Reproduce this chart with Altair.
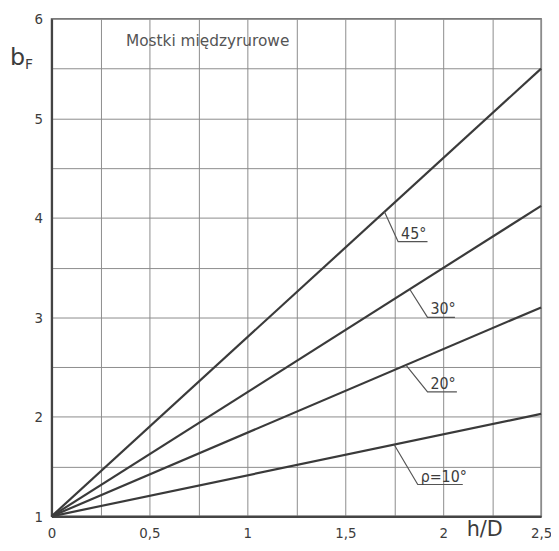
import altair as alt
import pandas as pd

# --- data ---
curve_names = ["45°", "30°", "20°", "10°"]
curve_h = [0.0, 2.5]
curve_b_start = [1.0, 1.0, 1.0, 1.0]
curve_b_end = [5.5, 4.12, 3.10, 2.03]

label_text = ["45°", "30°", "20°", "ρ=10°"]
lead_h0 = [1.70, 1.83, 1.81, 1.75]
lead_b0 = [4.06, 3.28, 2.52, 1.72]
lead_h1 = [1.77, 1.92, 1.92, 1.87]
lead_b1 = [3.76, 3.00, 2.25, 1.32]
lead_h2 = [1.92, 2.06, 2.07, 2.10]
text_h = [1.785, 1.935, 1.935, 1.885]

x_ticks = [0, 0.25, 0.5, 0.75, 1, 1.25, 1.5, 1.75, 2, 2.25, 2.5]
y_ticks = [1, 1.5, 2, 2.5, 3, 3.5, 4, 4.5, 5, 5.5, 6]

FONT = "Liberation Sans Narrow, DejaVu Sans Condensed, Roboto, sans-serif"
INK = "#3c3c3c"

rows = []
for n, b0, b1 in zip(curve_names, curve_b_start, curve_b_end):
    rows.append({"name": n, "h": curve_h[0], "b": b0})
    rows.append({"name": n, "h": curve_h[1], "b": b1})
curves = pd.DataFrame(rows)

lrows = []
for t, h0, b0, h1, b1, h2 in zip(label_text, lead_h0, lead_b0, lead_h1, lead_b1, lead_h2):
    lrows += [{"lbl": t, "h": h0, "b": b0, "o": 0},
              {"lbl": t, "h": h1, "b": b1, "o": 1},
              {"lbl": t, "h": h2, "b": b1, "o": 2}]
leaders = pd.DataFrame(lrows)
labels = pd.DataFrame({"lbl": label_text, "h": text_h, "b": lead_b1})

X = alt.X("h:Q",
          scale=alt.Scale(domain=[0, 2.5], nice=False, zero=False),
          axis=alt.Axis(values=x_ticks, title=None, grid=True, tickSize=0,
                        format="~g", labelFlush=False, labelOverlap=False,
                        labelExpr="datum.value % 0.5 == 0 ? replace(datum.label, '.', ',') : ''",
                        labelPadding=9, labelFontSize=15, labelFont=FONT, labelColor=INK,
                        domainColor="#444", domainWidth=2.2,
                        gridColor="#8c8c8c", gridWidth=1))
Y = alt.Y("b:Q",
          scale=alt.Scale(domain=[1, 6], nice=False, zero=False),
          axis=alt.Axis(values=y_ticks, title=None, grid=True, tickSize=0,
                        format="~g", labelFlush=False, labelOverlap=False,
                        labelExpr="datum.value % 1 == 0 ? datum.label : ''",
                        labelPadding=9, labelFontSize=15, labelFont=FONT, labelColor=INK,
                        domainColor="#444", domainWidth=2.2,
                        gridColor="#8c8c8c", gridWidth=1))

lines = alt.Chart(curves).mark_line(color="#3a3a3a", strokeWidth=2.2).encode(
    x=X, y=Y, detail="name:N")

lead = alt.Chart(leaders).mark_line(color="#555", strokeWidth=1.2).encode(
    x=X, y=Y, detail="lbl:N", order="o:Q")

txt = alt.Chart(labels).mark_text(align="left", baseline="alphabetic", dy=-3,
                                  fontSize=16, font=FONT, color=INK).encode(
    x=X, y=Y, text="lbl:N")

ann = pd.DataFrame({
    "t": ["Mostki międzyrurowe", "b", "F", "h/D"],
    "h": [0.38, -0.212, -0.136, 2.12],
    "b": [5.73, 5.54, 5.50, 0.80],
})
title_t = alt.Chart(ann.iloc[[0]]).mark_text(align="left", baseline="alphabetic",
                                             fontSize=15.5, font="DejaVu Sans", color="#555").encode(
    x=X, y=Y, text="t:N")
bf = alt.Chart(ann.iloc[[1]]).mark_text(align="left", baseline="alphabetic",
                                        fontSize=24, font="DejaVu Sans", color=INK).encode(
    x=X, y=Y, text="t:N")
ff = alt.Chart(ann.iloc[[2]]).mark_text(align="left", baseline="alphabetic",
                                        fontSize=14, font="DejaVu Sans", color=INK).encode(
    x=X, y=Y, text="t:N")
hd = alt.Chart(ann.iloc[[3]]).mark_text(align="left", baseline="alphabetic",
                                        fontSize=21, font="DejaVu Sans", color=INK).encode(
    x=X, y=Y, text="t:N")

chart = alt.layer(lines, lead, txt, title_t, bf, ff, hd).properties(
    width=495, height=503,
    autosize=alt.AutoSizeParams(type="none"),
    padding={"left": 44, "top": 8, "right": 10, "bottom": 22},
    background="white",
).configure_view(stroke="#777", strokeWidth=1.5)

chart.save("out.html", embed_options={"renderer": "svg", "actions": False})
